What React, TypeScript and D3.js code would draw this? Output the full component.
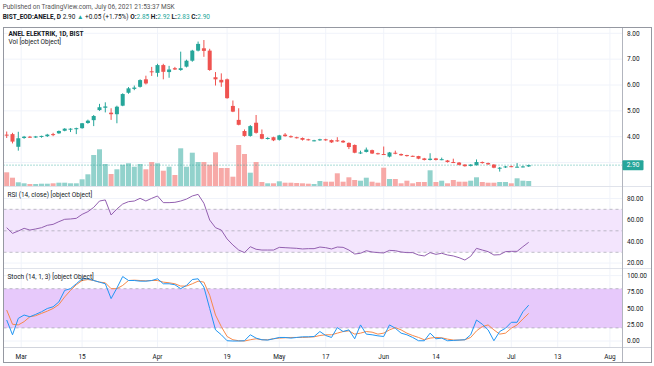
import * as d3 from "d3";

// daily bars, BIST:ANELE, late Feb - 6 Jul 2021
const opens = [
  4.08, 4.1, 3.61, 3.95, 4.0, 3.97, 3.99, 4.02, 4.1, 4.13, 4.23, 4.29, 4.29, 4.33, 4.53, 4.64, 5.03, 5.12, 4.93, 4.87,
  5.2, 5.7, 5.85, 5.93, 6.22, 6.53, 6.47, 6.77, 6.5, 6.65, 6.58, 6.71, 6.94, 7.33, 7.42, 7.33, 6.3, 6.2, 6.22, 5.19,
  4.65, 4.22, 4.03, 4.54, 4.1, 3.92, 3.98, 3.88, 4.08, 4.02, 3.98, 3.95, 3.9, 3.84, 3.86, 3.9, 3.87, 3.86, 3.84, 3.76,
  3.68, 3.37, 3.41, 3.48, 3.36, 3.33, 3.23, 3.38, 3.33, 3.29, 3.26, 3.25, 3.16, 3.1, 3.16, 3.11, 3.08, 3.02, 3.0, 2.92,
  2.87, 2.9, 3.02, 2.98, 2.92, 2.79, 2.81, 2.86, 2.83, 2.83, 2.85,
];
const highs = [
  4.2, 4.15, 4.19, 4.03, 4.03, 4.03, 4.04, 4.11, 4.15, 4.24, 4.33, 4.33, 4.35, 4.53, 4.66, 4.84, 5.27, 5.33, 5.1, 5.2,
  5.68, 5.92, 5.98, 6.22, 6.36, 6.7, 6.82, 6.82, 6.74, 6.7, 7.29, 6.98, 7.36, 7.68, 7.74, 7.4, 6.5, 6.45, 6.25, 5.4,
  5.1, 4.28, 4.45, 4.84, 4.28, 3.98, 4.0, 4.07, 4.14, 4.05, 4.0, 3.97, 3.92, 3.88, 3.92, 3.92, 3.89, 3.98, 3.87, 3.78,
  3.7, 3.46, 3.58, 3.5, 3.38, 3.62, 3.41, 3.46, 3.35, 3.3, 3.27, 3.26, 3.18, 3.36, 3.18, 3.19, 3.1, 3.15, 3.02, 2.94,
  2.94, 3.12, 3.04, 3.0, 2.94, 2.83, 2.87, 2.88, 2.98, 2.88, 2.92,
];
const lows = [
  3.95, 3.74, 3.46, 3.92, 3.95, 3.95, 3.96, 3.99, 4.02, 4.11, 4.21, 4.18, 4.1, 4.31, 4.5, 4.41, 5.0, 4.94, 4.65, 4.52,
  5.18, 5.66, 5.8, 5.9, 6.02, 6.35, 6.32, 6.22, 6.28, 6.58, 6.55, 6.68, 6.9, 7.3, 7.09, 6.55, 5.98, 5.93, 5.47, 4.95,
  4.44, 4.0, 4.0, 4.12, 3.9, 3.89, 3.83, 3.85, 4.0, 3.96, 3.93, 3.85, 3.85, 3.82, 3.84, 3.84, 3.76, 3.8, 3.76, 3.52,
  3.36, 3.33, 3.39, 3.33, 3.31, 3.29, 3.2, 3.32, 3.26, 3.23, 3.22, 3.13, 3.08, 3.08, 3.08, 3.09, 3.0, 2.98, 2.89, 2.84,
  2.85, 2.88, 2.96, 2.91, 2.78, 2.65, 2.79, 2.82, 2.81, 2.81, 2.83,
];
const closes = [
  4.05, 3.81, 3.94, 4.0, 3.97, 4.01, 4.03, 4.08, 4.08, 4.22, 4.31, 4.31, 4.33, 4.52, 4.62, 4.8, 5.14, 5.17, 4.87, 5.16,
  5.65, 5.87, 5.9, 6.19, 6.06, 6.5, 6.77, 6.51, 6.6, 6.6, 6.65, 6.94, 7.33, 7.59, 7.32, 6.58, 6.22, 6.1, 5.49, 4.97,
  4.46, 4.03, 4.41, 4.15, 3.92, 3.95, 3.86, 4.05, 4.02, 3.98, 3.95, 3.88, 3.87, 3.86, 3.9, 3.86, 3.78, 3.84, 3.78, 3.6,
  3.38, 3.39, 3.5, 3.35, 3.33, 3.31, 3.39, 3.34, 3.28, 3.25, 3.24, 3.15, 3.1, 3.15, 3.1, 3.13, 3.02, 3.0, 2.91, 2.86,
  2.92, 3.02, 2.98, 2.93, 2.8, 2.8, 2.85, 2.84, 2.84, 2.85, 2.9,
];
const volumes = [
  13.7, 8.3, 3.7, 2.7, 2, 2, 2.3, 2.3, 2.7, 3.3, 3.3, 2.7, 2.7, 6.7, 11.7, 31, 36.7, 22, 12, 16.7,
  21.3, 22.7, 19.3, 22, 16.7, 24, 22.7, 15.3, 19.3, 11, 37.7, 19.3, 33.3, 24, 24, 21.3, 33.7, 18, 18, 9.3,
  41, 32, 13.3, 24, 4, 2.7, 2.7, 4.7, 3.3, 3.3, 3, 2.7, 2.3, 2, 5, 4.3, 4.3, 12.7, 4.3, 8.7,
  6, 5.3, 8.3, 4.3, 3.3, 18.3, 7, 7, 2.7, 5.3, 2.7, 4, 4, 15.7, 4, 5.3, 2.7, 6, 4.3, 4.3,
  5.3, 8.7, 4, 3.3, 3.3, 4, 4, 2.7, 7.7, 5.3, 5,
];
const rsi = [
  52.9, 47.6, 49.8, 52.3, 50.7, 51.7, 52.9, 55.1, 56.0, 58.5, 60.7, 61.0, 61.6, 65.3, 67.8, 71.8, 77.7, 78.7, 64.7, 70.3,
  74.9, 77.1, 77.7, 80.2, 77.7, 80.2, 82.4, 76.2, 76.2, 76.5, 77.7, 79.5, 82.4, 83.9, 75.6, 60.0, 52.9, 50.7, 42.4, 36.8,
  32.1, 29.7, 35.2, 32.8, 32.1, 32.1, 32.1, 34.6, 34.3, 34.0, 33.7, 33.1, 33.4, 33.4, 34.9, 34.3, 33.1, 34.9, 34.6, 32.1,
  28.4, 29.1, 31.5, 30.3, 29.7, 29.4, 31.8, 31.5, 30.3, 29.7, 29.7, 27.5, 26.6, 29.7, 28.1, 29.1, 27.5, 26.6, 25.0, 22.8,
  26.3, 33.7, 32.1, 30.6, 27.5, 27.8, 30.6, 30.9, 30.9, 35.2, 39.3,
];
const stochK = [
  32.1, 9.5, 34.6, 39.7, 37.1, 40.7, 44.7, 49.7, 52.3, 59.8, 77.4, 80.0, 87.5, 95.1, 95.1, 92.5, 90.0, 87.5, 64.8, 81.0,
  98.6, 92.5, 92.5, 91.5, 91.5, 92.5, 95.1, 87.5, 87.5, 86.0, 80.0, 85.0, 94.0, 95.1, 82.5, 49.7, 17.0, 9.5, 0.4, 0,
  0, 0.4, 9.5, 4.4, 1.9, 1.4, 3.4, 5.4, 5.4, 4.4, 5.4, 6.4, 6.4, 6.9, 14.5, 8.4, 5.4, 20.5, 14.5, 17.0,
  3.4, 24.6, 10.5, 9.5, 7.9, 6.9, 24.6, 19.5, 12.0, 9.5, 5.4, 0.4, 0.4, 12.0, 3.4, 4.4, 0.4, 0.9, 1.4, 1.9,
  9.5, 32.1, 25.6, 17.0, 0.4, 14.5, 19.5, 28.6, 28.6, 44.7, 54.8,
];
const stochD = [
  47.3, 25.6, 24.6, 29.6, 37.1, 38.7, 42.2, 45.7, 49.7, 55.8, 67.4, 77.4, 86.0, 92.5, 94.0, 92.5, 90.0, 89.0, 80.0, 80.0,
  85.0, 92.5, 93.0, 92.5, 92.0, 92.5, 92.5, 90.0, 89.0, 87.5, 84.0, 84.0, 87.5, 91.5, 90.0, 69.9, 39.7, 22.0, 6.9, 1.9,
  0.4, 0, 1.9, 3.4, 1.9, 1.9, 3.4, 4.4, 4.9, 5.4, 5.4, 5.4, 5.9, 6.4, 8.4, 9.5, 9.5, 12.0, 14.5, 15.5,
  10.5, 12.0, 14.5, 13.5, 10.5, 12.0, 17.0, 20.5, 17.0, 12.0, 8.4, 5.4, 1.9, 4.4, 5.4, 4.9, 2.9, 1.4, 1.4, 1.9,
  5.4, 15.5, 22.0, 24.6, 17.0, 10.5, 12.0, 19.5, 24.6, 33.6, 42.2,
];

const timeLabels = ["Mar", "15", "Apr", "19", "May", "17", "Jun", "14", "Jul", "13", "Aug"];
const timeBars = [2.5, 13, 26, 38, 47, 55, 65, 74, 87, 95, 104];
const priceGrid = [3, 4, 5, 6, 7, 8];
const priceLabels = [4, 5, 6, 7, 8]; // 3.00 sits under the last-price tag
const rsiTicks = [20, 40, 60, 80];
const rsiLevels = [70, 50, 30];
const stochTicks = [0, 25, 50, 75, 100];
const stochLevels = [80, 20];

const W = 654;
const H = 366;
const LEFT = 3.5;
const RIGHT = 651.5;
const AXIS_X = 622;
const TOP = 27.5;
const MAIN_BOTTOM = 186;
const RSI_TOP = 187;
const RSI_BOTTOM = 268;
const TIME_TOP = 347;
const BOTTOM = 362.5;

const UP = "#26a69a";
const DOWN = "#ef5350";
const UP_VOL = "#92d2cc";
const DOWN_VOL = "#f7a9a7";
const GRID = "#f0f3fa";
const TEXT = "#131722";
const FONT = "Roboto, sans-serif";
const FS = 6.5;

export default function App() {
  const x = d3.scaleLinear().domain([0, 90]).range([6.7, 528.7]);
  const yP = d3.scaleLinear().domain([4, 8]).range([136.7, 33.3]);
  const yV = d3.scaleLinear().domain([0, d3.max(volumes) as number]).range([MAIN_BOTTOM, MAIN_BOTTOM - 41]);
  const yR = d3.scaleLinear().domain([30, 70]).range([252.3, 209.3]);
  const yS = d3.scaleLinear().domain([0, 50]).range([341, 308.3]);

  const rsiLine = d3.line<number>().x((_, i) => x(i)).y((d) => yR(d));
  const stochLine = d3.line<number>().x((_, i) => x(i)).y((d) => yS(d));

  const last = closes[closes.length - 1];
  const lastY = yP(last);

  return (
    <svg
      width={W}
      height={H}
      style={{ position: "absolute", left: 0, top: 0, background: "#fff" }}
      fontFamily={FONT}
      fontSize={FS}
    >
      {/* header */}
      <text x={2.7} y={9} fill="#555">
        Published on TradingView.com, July 06, 2021 21:53:37 MSK
      </text>
      <text x={2.7} y={18.5} fill={TEXT}>
        <tspan fontWeight="bold">BIST_EOD:ANELE, D</tspan>
        <tspan> 2.90 </tspan>
        <tspan fill={UP}>▲</tspan>
        <tspan> +0.05 (+1.75%) </tspan>
        <tspan fontWeight="bold">O:</tspan>
        <tspan fill={UP}>2.85 </tspan>
        <tspan fontWeight="bold">H:</tspan>
        <tspan fill={UP}>2.92 </tspan>
        <tspan fontWeight="bold">L:</tspan>
        <tspan fill={UP}>2.83 </tspan>
        <tspan fontWeight="bold">C:</tspan>
        <tspan fill={UP}>2.90</tspan>
      </text>

      {/* vertical grid */}
      {timeBars.map((b, i) => (
        <line key={"vg" + i} x1={x(b)} x2={x(b)} y1={TOP} y2={TIME_TOP} stroke={GRID} />
      ))}
      {/* horizontal grid */}
      {priceGrid.map((p) => (
        <line key={"pg" + p} x1={LEFT} x2={AXIS_X} y1={yP(p)} y2={yP(p)} stroke={GRID} />
      ))}
      {rsiTicks.map((p) => (
        <line key={"rg" + p} x1={LEFT} x2={AXIS_X} y1={yR(p)} y2={yR(p)} stroke={GRID} />
      ))}
      {stochTicks.map((p) => (
        <line key={"sg" + p} x1={LEFT} x2={AXIS_X} y1={yS(p)} y2={yS(p)} stroke={GRID} />
      ))}

      {/* volume */}
      {volumes.map((v, i) => (
        <rect
          key={"v" + i}
          x={x(i) - 2.5}
          y={yV(v)}
          width={5}
          height={MAIN_BOTTOM - yV(v)}
          fill={closes[i] >= opens[i] ? UP_VOL : DOWN_VOL}
        />
      ))}

      {/* last price line */}
      <line x1={LEFT} x2={AXIS_X} y1={lastY} y2={lastY} stroke={UP} strokeDasharray="1 2" opacity={0.8} />

      {/* candles */}
      {closes.map((c, i) => {
        const o = opens[i];
        const col = c >= o ? UP : DOWN;
        const top = yP(Math.max(o, c));
        const h = Math.max(1, Math.abs(yP(o) - yP(c)));
        return (
          <g key={"c" + i}>
            <line x1={x(i)} x2={x(i)} y1={yP(highs[i])} y2={yP(lows[i])} stroke={col} strokeWidth={1} />
            <rect x={x(i) - 2} y={top} width={4} height={h} fill={col} />
          </g>
        );
      })}

      {/* RSI pane */}
      <rect x={LEFT} y={yR(70)} width={AXIS_X - LEFT} height={yR(30) - yR(70)} fill="#f3e5fd" />
      {rsiLevels.map((l) => (
        <line key={"rl" + l} x1={LEFT} x2={AXIS_X} y1={yR(l)} y2={yR(l)} stroke="#9598a1" strokeDasharray="3 3" strokeWidth={0.6} />
      ))}
      <path d={rsiLine(rsi) as string} fill="none" stroke="#9360b0" strokeWidth={1} />

      {/* Stoch pane */}
      <rect x={LEFT} y={yS(80)} width={AXIS_X - LEFT} height={yS(20) - yS(80)} fill="#e7c9fb" />
      {stochLevels.map((l) => (
        <line key={"sl" + l} x1={LEFT} x2={AXIS_X} y1={yS(l)} y2={yS(l)} stroke="#9598a1" strokeDasharray="3 3" strokeWidth={0.6} />
      ))}
      <path d={stochLine(stochD) as string} fill="none" stroke="#f7894a" strokeWidth={1} />
      <path d={stochLine(stochK) as string} fill="none" stroke="#2196f3" strokeWidth={1} />

      {/* pane separators and frame */}
      <line x1={LEFT} x2={RIGHT} y1={RSI_TOP - 0.5} y2={RSI_TOP - 0.5} stroke="#e0e3eb" />
      <line x1={LEFT} x2={RIGHT} y1={RSI_BOTTOM + 0.5} y2={RSI_BOTTOM + 0.5} stroke="#e0e3eb" />
      <line x1={LEFT} x2={RIGHT} y1={TIME_TOP + 0.5} y2={TIME_TOP + 0.5} stroke="#d1d4dc" />
      <line x1={AXIS_X + 0.5} x2={AXIS_X + 0.5} y1={TOP} y2={BOTTOM} stroke="#b2b5be" />
      <rect x={LEFT} y={TOP} width={RIGHT - LEFT} height={BOTTOM - TOP} fill="none" stroke="#9598a1" />

      {/* pane titles */}
      <text x={8.5} y={35.5} fill={TEXT} fontWeight="bold">ANEL ELEKTRIK, 1D, BIST</text>
      <text x={8.5} y={44} fill={TEXT}>Vol [object Object]</text>
      <text x={7.5} y={197} fill={TEXT}>RSI (14, close) [object Object]</text>
      <text x={7.5} y={278.5} fill={TEXT}>Stoch (14, 1, 3) [object Object]</text>

      {/* price axis */}
      {priceLabels.map((p) => (
        <text key={"pt" + p} x={627} y={yP(p) + 2.3} fill={TEXT}>{p.toFixed(2)}</text>
      ))}
      <rect x={AXIS_X + 0.5} y={lastY - 5} width={21} height={10} fill={UP} rx={1} />
      <text x={633} y={lastY + 2.3} fill="#fff" textAnchor="middle">{last.toFixed(2)}</text>
      {rsiTicks.map((p) => (
        <text key={"rt" + p} x={627} y={yR(p) + 2.3} fill={TEXT}>{p.toFixed(2)}</text>
      ))}
      {stochTicks.map((p) => (
        <text key={"st" + p} x={627} y={yS(p) + 2.3} fill={TEXT}>{p.toFixed(2)}</text>
      ))}

      {/* time axis */}
      {timeLabels.map((t, i) => (
        <text key={"tl" + i} x={x(timeBars[i])} y={359} fill={TEXT} textAnchor="middle">{t}</text>
      ))}
    </svg>
  );
}
